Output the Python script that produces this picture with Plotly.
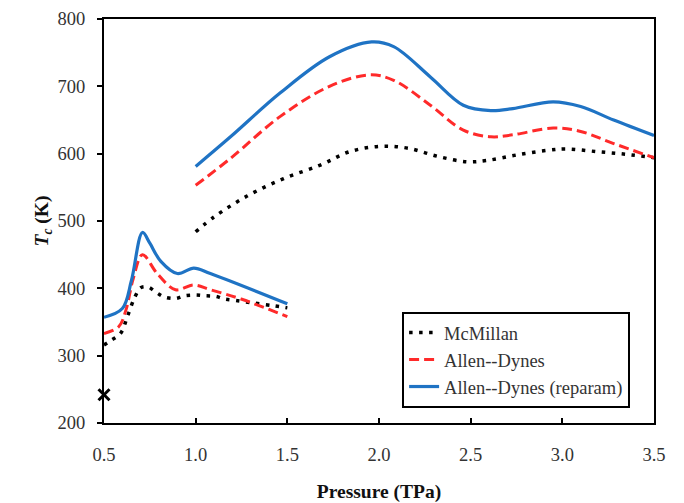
import plotly.graph_objects as go

# Critical temperature vs pressure, two pressure windows per model
p_low_mcm = [0.50, 0.54, 0.59, 0.63, 0.67, 0.70, 0.74, 0.79, 0.83, 0.89, 0.94, 1.00, 1.05, 1.11, 1.16, 1.22, 1.32, 1.43, 1.50]
tc_low_mcm = [316, 323, 333, 360, 388, 401, 402, 393, 387, 385, 389, 390, 389, 388, 384, 382, 378, 374, 371]

p_low_ad = [0.50, 0.58, 0.62, 0.66, 0.71, 0.79, 0.89, 0.99, 1.08, 1.26, 1.50]
tc_low_ad = [333, 343, 368, 415, 450, 422, 398, 405, 398, 383, 358]

p_low_rep = [0.50, 0.60, 0.65, 0.71, 0.75, 0.81, 0.90, 0.99, 1.08, 1.50]
tc_low_rep = [357, 370, 412, 483, 467, 440, 422, 430, 422, 377]

p_high_mcm = [1.00, 1.10, 1.28, 1.48, 1.68, 1.84, 2.01, 2.16, 2.32, 2.48, 2.59, 2.75, 2.92, 3.02, 3.19, 3.35, 3.50]
tc_high_mcm = [484, 506, 537, 563, 583, 603, 611, 608, 596, 588, 590, 598, 605, 607, 603, 599, 594]

p_high_ad = [1.00, 1.19, 1.46, 1.73, 1.95, 2.08, 2.28, 2.46, 2.61, 2.73, 2.95, 3.10, 3.28, 3.50]
tc_high_ad = [553, 593, 655, 700, 717, 709, 672, 635, 625, 628, 638, 633, 615, 594]

p_high_rep = [1.00, 1.19, 1.46, 1.73, 1.96, 2.08, 2.28, 2.46, 2.61, 2.73, 2.95, 3.10, 3.28, 3.50]
tc_high_rep = [581, 625, 690, 744, 766, 759, 714, 672, 664, 667, 677, 670, 650, 627]

marker_p = [0.5]
marker_tc = [242]

BLUE = "#1F73C4"
RED = "#FF2A2A"
BLACK = "#000000"

fig = go.Figure()

styles = [
    ("McMillan", p_low_mcm, tc_low_mcm, p_high_mcm, tc_high_mcm, BLACK, 3.5, "3.5px,6.5px"),
    ("Allen--Dynes", p_low_ad, tc_low_ad, p_high_ad, tc_high_ad, RED, 3, "10px,5px"),
    ("Allen--Dynes (reparam)", p_low_rep, tc_low_rep, p_high_rep, tc_high_rep, BLUE, 3.2, "solid"),
]

for name, px1, ty1, px2, ty2, col, w, dash in styles:
    fig.add_trace(go.Scatter(
        x=px1, y=ty1, mode="lines", name=name, legendgroup=name,
        line=dict(color=col, width=w, dash=dash, shape="spline", smoothing=1.0),
    ))
    fig.add_trace(go.Scatter(
        x=px2, y=ty2, mode="lines", name=name, legendgroup=name, showlegend=False,
        line=dict(color=col, width=w, dash=dash, shape="spline", smoothing=1.0),
    ))

fig.add_trace(go.Scatter(
    x=marker_p, y=marker_tc, mode="markers", showlegend=False, cliponaxis=False,
    marker=dict(symbol="x-thin", size=11, color=BLACK, line=dict(width=3, color=BLACK)),
))

font_family = "Liberation Serif, Times New Roman, serif"

fig.update_layout(
    width=684, height=503,
    margin=dict(l=104, r=30, t=19, b=80),
    paper_bgcolor="white", plot_bgcolor="white",
    font=dict(family=font_family, size=18.5, color="#333333"),
    showlegend=True,
    legend=dict(
        x=0.542, y=0.275, xanchor="left", yanchor="top",
        bgcolor="white", bordercolor="black", borderwidth=2,
        font=dict(family=font_family, size=18.5, color="#333333"),
        tracegroupgap=0, itemwidth=30,
    ),
)

fig.update_xaxes(
    range=[0.5, 3.5], tickvals=[0.5, 1.0, 1.5, 2.0, 2.5, 3.0, 3.5],
    ticktext=["0.5", "1.0", "1.5", "2.0", "2.5", "3.0", "3.5"],
    showline=True, linecolor="black", linewidth=2, mirror=True,
    ticks="inside", ticklen=5, tickwidth=2, tickcolor="black",
    showgrid=False, zeroline=False, ticklabelstandoff=14, automargin=False,
    tickfont=dict(size=18.5, color="#333333"),
    title=dict(text="<b>Pressure (TPa)</b>", font=dict(size=19.5, color="#111111"), standoff=20),
)

fig.update_yaxes(
    range=[200, 800], tickvals=[200, 300, 400, 500, 600, 700, 800],
    showline=True, linecolor="black", linewidth=2, mirror=True,
    ticks="outside", ticklen=5, tickwidth=2, tickcolor="black",
    showgrid=False, zeroline=False, ticklabelstandoff=8, automargin=False,
    tickfont=dict(size=18.5, color="#333333"),
    title=dict(text="<b><i>T</i><sub><i>c</i></sub> (K)</b>", font=dict(size=19.5, color="#111111"), standoff=4),
)

fig.write_html("out.html")
